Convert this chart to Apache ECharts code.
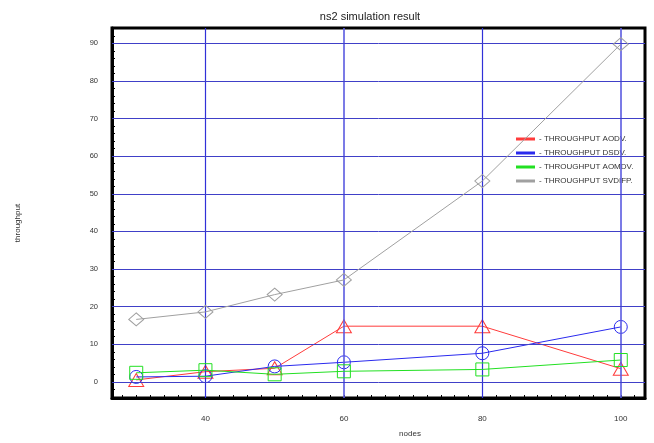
<!DOCTYPE html>
<html><head><meta charset="utf-8">
<script src="https://cdn.jsdelivr.net/npm/echarts@6/dist/echarts.min.js"></script>
<style>html,body{margin:0;padding:0;background:#fff}#c{width:654px;height:443px}</style>
</head><body><div id="c"></div>
<script>
const nodes = [30, 40, 50, 60, 80, 100];
const aodv = [0.5, 2.7, 3.6, 14.8, 14.8, 3.5];
const dsdv = [1.3, 1.5, 4.1, 5.2, 7.6, 14.6];
const aomdv = [2.4, 3.1, 2.0, 2.8, 3.3, 5.8];
const svdifp = [16.6, 18.6, 23.2, 27.1, 53.4, 89.8];
const seriesNames = ['- THROUGHPUT AODV.', '- THROUGHPUT DSDV.', '- THROUGHPUT AOMDV.', '- THROUGHPUT SVDIFP.'];
const xLabels = [40, 60, 80, 100];
const yLabels = [0, 10, 20, 30, 40, 50, 60, 70, 80, 90];
const xTicks = [28,30,32,34,36,38,40,42,44,46,48,50,52,54,56,58,60,62,64,66,68,70,72,74,76,78,80,82,84,86,88,90,92,94,96,98,100,102];
const yTicks = [-4,-2,0,2,4,6,8,10,12,14,16,18,20,22,24,26,28,30,32,34,36,38,40,42,44,46,48,50,52,54,56,58,60,62,64,66,68,70,72,74,76,78,80,82,84,86,88,90,92,94];

const colors = ['#ff3b3b', '#2a2aee', '#22e022', '#a0a0a0'];
const symbols = ['triangle', 'circle', 'rect', 'diamond'];
const sizes = [[15,13], 13, 13, [15,13]];
const datasets = [aodv, dsdv, aomdv, svdifp];
const font = 'Liberation Sans, Arial, sans-serif';

const gridLines = xLabels.map(v => ({ xAxis: v, lineStyle: (v === 40 || v === 80) ? { color: '#3030d8', width: 1.2 } : { color: '#5a5ae0', width: 1.6 } }))
  .concat(yLabels.map(v => ({ yAxis: v, lineStyle: { color: '#4040c8', width: 1 } })));

const series = datasets.map((d, i) => ({
  name: seriesNames[i], type: 'line',
  data: nodes.map((x, j) => [x, d[j]]),
  symbol: symbols[i], symbolSize: sizes[i], showAllSymbol: true,
  lineStyle: { color: colors[i], width: 1 },
  itemStyle: { color: 'rgba(0,0,0,0)', borderColor: colors[i], borderWidth: 1 },
  z: 3 + i
}));
series.push({
  type: 'line', data: [], silent: true, z: 1,
  markLine: { silent: true, symbol: 'none', label: { show: false }, animation: false,
    lineStyle: { type: 'solid', width: 1 }, emphasis: { disabled: true }, data: gridLines }
});

const chart = echarts.init(document.getElementById('c'));
chart.setOption({
  animation: false,
  title: { text: 'ns2 simulation result', left: 365, top: 6, textAlign: 'center',
    textStyle: { fontFamily: font, fontSize: 11, fontWeight: 'normal', color: '#222' } },
  legend: {
    orient: 'vertical', left: 511, top: 130, itemGap: 6, itemWidth: 17, itemHeight: 1,
    icon: 'rect',
    textStyle: { fontFamily: font, fontSize: 8, color: '#333' },
    data: seriesNames.map((n, i) => ({ name: n, itemStyle: { color: colors[i] } }))
  },
  grid: { left: 112, right: 9, top: 28, bottom: 40, show: true, borderColor: '#000', borderWidth: 3, containLabel: false },
  xAxis: {
    type: 'value', min: 26.5, max: 103.5,
    name: 'nodes', nameLocation: 'middle', nameGap: 32,
    nameTextStyle: { fontFamily: font, fontSize: 8, color: '#333', padding: [0,0,0,63] },
    axisLine: { show: true, onZero: false, lineStyle: { color: '#000', width: 3 } },
    axisTick: { show: true, inside: true, length: 3, customValues: xTicks, lineStyle: { color: '#000' } },
    axisLabel: { customValues: xLabels, fontFamily: font, fontSize: 8, color: '#333', margin: 17 },
    splitLine: { show: false }
  },
  yAxis: {
    type: 'value', min: -4.3, max: 94.1,
    name: 'throughput', nameLocation: 'middle', nameGap: 90, nameRotate: 90,
    nameTextStyle: { fontFamily: font, fontSize: 8, color: '#333', padding: [0,20,0,0] },
    axisLine: { show: true, onZero: false, lineStyle: { color: '#000', width: 3 } },
    axisTick: { show: true, inside: true, length: 3, customValues: yTicks, lineStyle: { color: '#000' } },
    axisLabel: { customValues: yLabels, fontFamily: font, fontSize: 7.5, color: '#333', margin: 14 },
    splitLine: { show: false }
  },
  series: series
});
</script></body></html>
